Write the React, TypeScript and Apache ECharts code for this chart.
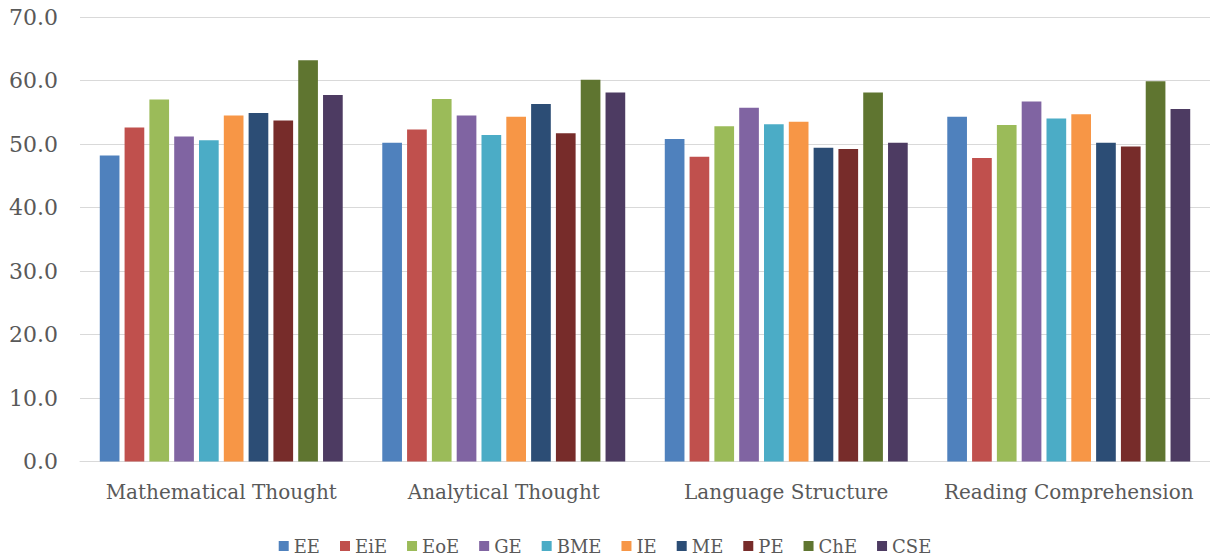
import React, { useEffect, useRef } from "react";
import * as echarts from "echarts";

const categories = ["Mathematical Thought", "Analytical Thought", "Language Structure", "Reading Comprehension"];
const seriesNames = ["EE", "EiE", "EoE", "GE", "BME", "IE", "ME", "PE", "ChE", "CSE"];
const colors = ["#4F81BD", "#C0504D", "#9BBB59", "#8064A2", "#4BACC6", "#F79646", "#2C4D75", "#772C2A", "#5F7530", "#4D3B62"];
const EE = [48.2, 50.2, 50.8, 54.3];
const EiE = [52.6, 52.3, 48.0, 47.8];
const EoE = [57.0, 57.1, 52.8, 53.0];
const GE = [51.2, 54.5, 55.7, 56.7];
const BME = [50.6, 51.4, 53.1, 54.0];
const IE = [54.5, 54.3, 53.5, 54.7];
const ME = [54.9, 56.3, 49.4, 50.2];
const PE = [53.7, 51.7, 49.2, 49.6];
const ChE = [63.2, 60.1, 58.1, 59.9];
const CSE = [57.7, 58.1, 50.2, 55.5];
const values = [EE, EiE, EoE, GE, BME, IE, ME, PE, ChE, CSE];
const yTicks = { min: 0, max: 70, interval: 10 };

const FONT = "DejaVu Serif";

export default function App() {
  const ref = useRef<HTMLDivElement>(null);
  useEffect(() => {
    document.body.style.margin = "0";
    const chart = echarts.init(ref.current!, undefined, { renderer: "svg" });
    chart.setOption({
      animation: false,
      backgroundColor: "#ffffff",
      grid: { left: 80, right: 0, top: 17, bottom: 94.5 },
      legend: {
        top: 532,
        left: "center",
        icon: "rect",
        itemWidth: 10,
        itemHeight: 10,
        itemGap: 20,
        textStyle: { fontFamily: FONT, fontSize: 18, color: "#595959" },
        data: seriesNames,
      },
      xAxis: {
        type: "category",
        data: categories,
        axisTick: { show: false },
        axisLine: { lineStyle: { color: "#d9d9d9", width: 1 } },
        axisLabel: { interval: 0, fontFamily: FONT, fontSize: 20, color: "#595959", margin: 20 },
      },
      yAxis: {
        type: "value",
        min: yTicks.min,
        max: yTicks.max,
        interval: yTicks.interval,
        axisLine: { show: false },
        axisTick: { show: false },
        splitLine: { lineStyle: { color: "#d9d9d9", width: 1 } },
        axisLabel: {
          fontFamily: FONT,
          fontSize: 22,
          color: "#595959",
          margin: 22,
          formatter: (v: number) => v.toFixed(1),
        },
      },
      series: seriesNames.map((name, i) => ({
        name,
        type: "bar",
        data: values[i],
        itemStyle: { color: colors[i] },
        barGap: "26%",
        barCategoryGap: "14%",
      })),
    });
    return () => chart.dispose();
  }, []);
  return <div ref={ref} style={{ position: "absolute", left: 0, top: 0, width: 1210, height: 556 }} />;
}
